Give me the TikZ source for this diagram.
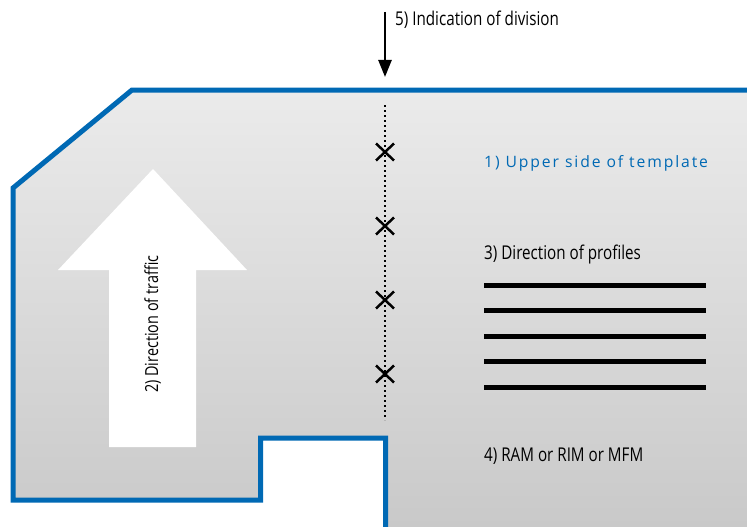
\documentclass[tikz,border=0pt]{standalone}
\usepackage{fontspec}
\setmainfont{Open Sans}[FakeStretch=0.8]
\newfontfamily\widefont{Open Sans}[LetterSpace=12]
\usetikzlibrary{arrows.meta}
\definecolor{tblue}{HTML}{0069B4}
\definecolor{gtop}{HTML}{EBEBEB}
\definecolor{gbot}{HTML}{C8C8C8}
\tikzset{
  lbl/.style={anchor=base west, inner sep=0pt, font=\fontsize{19}{22}\selectfont},
  profile/.style={line width=5pt},
  crossmark/.style={line width=2.5pt},
}
\begin{document}
\begin{tikzpicture}[x=1pt,y=-1pt]
\useasboundingbox (0,0) rectangle (747,527);
% fill
\shade[top color=gtop,bottom color=gbot]
  (760,90) -- (132,90) -- (13,188) -- (13,500) -- (260.5,500) -- (260.5,438)
  -- (385.5,438) -- (385.5,540) -- (760,540) -- cycle;
% outline
\draw[tblue,line width=5pt,line join=miter]
  (760,90) -- (132,90) -- (13,188) -- (13,500) -- (260.5,500) -- (260.5,438)
  -- (385.5,438) -- (385.5,540);
% traffic arrow
\fill[white] (153,169) -- (247,270) -- (196,270) -- (196,447) -- (109,447) -- (109,270) -- (58,270) -- cycle;
\node[anchor=base west, inner sep=0pt, rotate=90, font=\fontsize{18}{21}\selectfont] (traffic) at (158,393) {2) Direction of traffic};
% division line
\coordinate (dtop) at (385,105);
\coordinate (dbot) at (385,420);
\draw[line width=2pt, dash pattern=on 2pt off 3pt] (dtop) -- (dbot);
\foreach \yy in {152,226,300,374}{
  \draw[crossmark] (376,\yy-8.5) -- (394,\yy+8.5) (376,\yy+8.5) -- (394,\yy-8.5);
}
% indication arrow
\coordinate (ia) at (385,12);
\coordinate (ib) at (385,77);
\draw[line width=2.5pt,-{Triangle[length=17pt,width=13pt]}] (ia) -- (ib);
\node[lbl] (div) at (395,26) {5) Indication of division};
% labels
\node[lbl, text=tblue, font=\widefont\fontsize{15.7}{18}\selectfont] (upper) at (484,167) {1) Upper side of template};
\node[lbl] (prof) at (484,259) {3) Direction of profiles};
\foreach \yy in {285,310.5,336,361.5,387}{
  \draw[profile] (484,\yy) -- (706,\yy);
}
\node[lbl] (ram) at (484,461) {4) RAM or RIM or MFM};
\end{tikzpicture}
\end{document}
